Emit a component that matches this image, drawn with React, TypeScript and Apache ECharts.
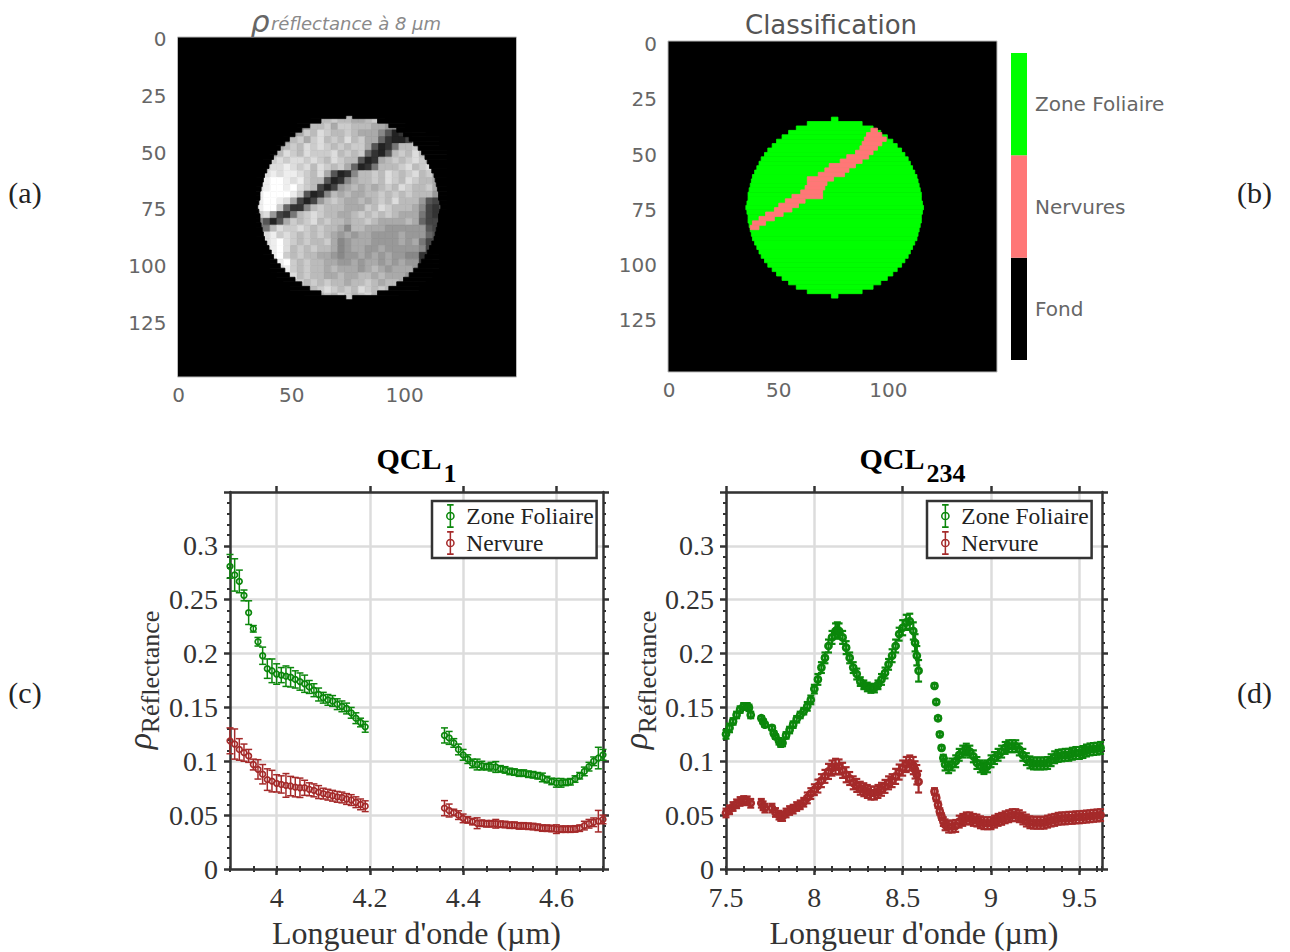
import React, { useEffect, useRef } from "react";
import * as echarts from "echarts";

const SERIF = "Liberation Serif";
const SANS = "DejaVu Sans";
const GREY_TEXT = "#666666";
const GREEN = "#0b870b";
const RED = "#a52a2a";

const IMG_TICKS = [0, 50, 100];
const IMG_YTICKS = [0, 25, 50, 75, 100, 125];
const CLASS_NAMES = ["Fond", "Nervures", "Zone Foliaire"];
const CLASS_COLORS = ["#000000", "#ff7777", "#00ff00"];

// Row of the disc: [row, first column, last column]
const DISC_ROWS = [
  [35, 74, 77], [37, 63, 88], [39, 58, 93], [41, 54.5, 96.5], [43, 51.5, 99.5], [45, 49, 102], [47, 47, 104],
  [49, 45, 106], [51, 43.5, 107.5], [53, 42, 109], [55, 41, 110], [57, 40, 111], [59, 39, 112], [61, 38, 113],
  [63, 37.5, 113.5], [65, 37, 114], [67, 36.5, 114.5], [69, 36, 115], [71, 36, 115], [73, 35.5, 115.5], [75, 35, 116],
  [77, 35.5, 115.5], [79, 36, 115], [81, 36, 115], [83, 36.5, 114.5], [85, 37, 114], [87, 37.5, 113.5], [89, 38, 113],
  [91, 39, 112], [93, 40, 111], [95, 41, 110], [97, 42, 109], [99, 43.5, 107.5], [101, 45, 106], [103, 47, 104],
  [105, 49, 102], [107, 51.5, 99.5], [109, 54.5, 96.5], [111, 58, 93], [113, 63, 88], [115, 74, 77],
];
// Empty rows above and below the disc in the reflectance image
const EMPTY_ROWS = [[32, 75, 75], [117, 75, 75]];

const NERVURE_ROWS = [
  [39, 92, 95], [41, 90, 97], [43, 89, 99], [45, 88, 97], [47, 87, 95], [49, 85, 93], [51, 81, 91], [53, 78, 88],
  [55, 73, 85], [57, 71, 82], [59, 68, 80], [61, 63, 75], [63, 63, 72], [65, 62, 71], [67, 60, 70], [69, 56, 70],
  [71, 53, 62], [73, 50, 59], [75, 48, 56], [77, 44, 52], [79, 41, 48], [81, 38, 44], [83, 37, 41],
];

// Reflectance image, read as one hex grey level per block of the picture
const GREY_ROWS = [
  "00000000000000000000000000000",
  "000000000abbcbbaabca000000000",
  "000000089bbcaccbbbaa999000000",
  "0000009acbdcbbcbaaa852369a000",
  "000009bcacdbcbdbcaa632248abb0",
  "0000abcbdcdcbcbcca5237bbcabb0",
  "000abdcbdcccdbcbc6325bcbdbcbb",
  "00bcdcddcdcbdcbb523abcbcdcbbc",
  "00cddedcdbdcbca6237bbbcdbcdcb",
  "0bdedeedcbda5238bbcbdcbcdbcaa",
  "0ceffedecbb5238abbcbdcbdcbbaa",
  "0deffefdcb4249abababcbdcbbcaa",
  "0effffec5238babaabbcbcbcbbb99",
  "0effeda4249bcbaababcbdbbb9545",
  "0effc6338bcbbbaaacbdcbbba8435",
  "0cd9437bcdcbbaabcbcbcbaaa7430",
  "08525acbcdbcbbabbcbaaaaba6440",
  "077bdccdcbcbba8bbaaa999999540",
  "0adecdcbcbcba9a9aa9999a999650",
  "00defdcbcbbca89aaa9999a9a7450",
  "00eefdbcbcbba89aa99a999998430",
  "00eefcbcbbaa9899a9a9a99883480",
  "000defcbcbbaa99a9aa9a9a993590",
  "000cdecbcbbabaaa9aba9aaa957a0",
  "0000ccdbcbbaabaabbabaaa9aaa00",
  "00000bccbcbcbbabbcbabbaaaa000",
  "000000abcbcdcbcbdcbcbbaba0000",
  "000000009bbcbdcbcdbcbb0000000",
  "00000000000000000000000000000",
];

const QCL1_X_TICKS = [4, 4.2, 4.4, 4.6];
const QCL234_X_TICKS = [7.5, 8, 8.5, 9, 9.5];
const Y_LABELS = [0, 0.05, 0.1, 0.15, 0.2, 0.25, 0.3];

// [wavelength, reflectance, half error bar]
const QCL1_GREEN = [
  [3.9, 0.281, 0.011], [3.91, 0.273, 0.015], [3.92, 0.267, 0.0105], [3.93, 0.254, 0.005], [3.94, 0.238, 0.011],
  [3.95, 0.223, 0.003], [3.96, 0.211, 0.004], [3.97, 0.198, 0.008], [3.98, 0.186, 0.009], [3.99, 0.184, 0.011],
  [4.0, 0.181, 0.0095], [4.01, 0.18, 0.007], [4.02, 0.179, 0.0095], [4.03, 0.178, 0.009], [4.04, 0.176, 0.008],
  [4.05, 0.174, 0.008], [4.06, 0.172, 0.008], [4.07, 0.169, 0.006], [4.08, 0.166, 0.006], [4.09, 0.162, 0.006],
  [4.1, 0.159, 0.005], [4.11, 0.157, 0.005], [4.12, 0.156, 0.005], [4.13, 0.153, 0.005], [4.14, 0.151, 0.005],
  [4.15, 0.149, 0.005], [4.16, 0.145, 0.005], [4.17, 0.14, 0.005], [4.18, 0.136, 0.004], [4.19, 0.132, 0.005],
  [4.36, 0.124, 0.007], [4.37, 0.1217, 0.006], [4.38, 0.117, 0.004], [4.39, 0.111, 0.005], [4.4, 0.106, 0.005],
  [4.41, 0.102, 0.004], [4.42, 0.098, 0.004], [4.43, 0.097, 0.005], [4.44, 0.096, 0.004], [4.45, 0.095, 0.003],
  [4.46, 0.095, 0.004], [4.47, 0.0947, 0.005], [4.48, 0.093, 0.003], [4.49, 0.092, 0.003], [4.5, 0.0906, 0.003],
  [4.51, 0.09, 0.003], [4.52, 0.089, 0.003], [4.53, 0.089, 0.003], [4.54, 0.088, 0.003], [4.55, 0.0875, 0.003],
  [4.56, 0.0866, 0.003], [4.57, 0.085, 0.004], [4.58, 0.083, 0.003], [4.59, 0.0813, 0.003], [4.6, 0.08, 0.004],
  [4.61, 0.08, 0.004], [4.62, 0.0804, 0.003], [4.63, 0.081, 0.003], [4.64, 0.0835, 0.003], [4.65, 0.0866, 0.003],
  [4.66, 0.0906, 0.004], [4.67, 0.095, 0.004], [4.68, 0.1, 0.004], [4.69, 0.103, 0.01], [4.7, 0.106, 0.005],
];

const QCL1_RED = [
  [3.9, 0.119, 0.012], [3.91, 0.116, 0.014], [3.92, 0.111, 0.01], [3.93, 0.108, 0.008], [3.94, 0.105, 0.006],
  [3.95, 0.097, 0.005], [3.96, 0.0925, 0.009], [3.97, 0.088, 0.009], [3.98, 0.083, 0.01], [3.99, 0.0816, 0.01],
  [4.0, 0.0795, 0.008], [4.01, 0.0785, 0.008], [4.02, 0.0776, 0.011], [4.03, 0.077, 0.009], [4.04, 0.076, 0.009],
  [4.05, 0.0754, 0.009], [4.06, 0.0754, 0.007], [4.07, 0.074, 0.006], [4.08, 0.073, 0.006], [4.09, 0.0714, 0.006],
  [4.1, 0.07, 0.005], [4.11, 0.069, 0.005], [4.12, 0.068, 0.005], [4.13, 0.067, 0.005], [4.14, 0.0664, 0.005],
  [4.15, 0.065, 0.005], [4.16, 0.064, 0.005], [4.17, 0.062, 0.005], [4.18, 0.06, 0.005], [4.19, 0.0583, 0.005],
  [4.36, 0.0565, 0.007], [4.37, 0.0543, 0.006], [4.38, 0.0525, 0.003], [4.39, 0.05, 0.004], [4.4, 0.047, 0.004],
  [4.41, 0.0456, 0.003], [4.42, 0.044, 0.003], [4.43, 0.0425, 0.005], [4.44, 0.0425, 0.003], [4.45, 0.042, 0.003],
  [4.46, 0.042, 0.003], [4.47, 0.042, 0.004], [4.48, 0.0416, 0.003], [4.49, 0.0413, 0.003], [4.5, 0.0407, 0.003],
  [4.51, 0.0407, 0.003], [4.52, 0.04, 0.003], [4.53, 0.04, 0.003], [4.54, 0.0397, 0.003], [4.55, 0.0394, 0.003],
  [4.56, 0.0388, 0.003], [4.57, 0.038, 0.003], [4.58, 0.0379, 0.003], [4.59, 0.0376, 0.003], [4.6, 0.037, 0.004],
  [4.61, 0.037, 0.003], [4.62, 0.037, 0.003], [4.63, 0.037, 0.003], [4.64, 0.0372, 0.003], [4.65, 0.0379, 0.003],
  [4.66, 0.0403, 0.004], [4.67, 0.042, 0.004], [4.68, 0.0434, 0.004], [4.69, 0.0444, 0.01], [4.7, 0.046, 0.004],
];

const QCL234_GREEN = [
  [7.5, 0.125, 0.004], [7.52, 0.131, 0.004], [7.54, 0.137, 0.003], [7.56, 0.143, 0.003], [7.58, 0.148, 0.003],
  [7.6, 0.151, 0.003], [7.62, 0.151, 0.003], [7.63, 0.1496, 0.003], [7.64, 0.143, 0.003],
  [7.7, 0.14, 0.002], [7.71, 0.137, 0.002], [7.72, 0.134, 0.002],
  [7.76, 0.131, 0.002], [7.77, 0.126, 0.002], [7.78, 0.123, 0.002], [7.8, 0.1186, 0.003], [7.81, 0.1164, 0.003],
  [7.82, 0.117, 0.003], [7.84, 0.124, 0.003], [7.86, 0.129, 0.003], [7.88, 0.134, 0.003], [7.9, 0.139, 0.003],
  [7.92, 0.143, 0.003], [7.94, 0.1465, 0.003], [7.96, 0.151, 0.004], [7.98, 0.157, 0.004], [8.0, 0.167, 0.004],
  [8.02, 0.176, 0.005], [8.04, 0.187, 0.005], [8.06, 0.196, 0.005], [8.08, 0.207, 0.006], [8.1, 0.215, 0.006],
  [8.12, 0.221, 0.007], [8.13, 0.222, 0.007], [8.14, 0.221, 0.007], [8.16, 0.215, 0.006], [8.18, 0.2055, 0.006],
  [8.2, 0.196, 0.005], [8.22, 0.187, 0.005], [8.24, 0.181, 0.005], [8.26, 0.174, 0.004], [8.28, 0.171, 0.004],
  [8.3, 0.169, 0.004], [8.32, 0.1676, 0.004], [8.34, 0.168, 0.004], [8.36, 0.171, 0.004], [8.38, 0.176, 0.005],
  [8.4, 0.182, 0.005], [8.42, 0.19, 0.005], [8.44, 0.198, 0.006], [8.46, 0.207, 0.006], [8.48, 0.218, 0.006],
  [8.5, 0.224, 0.007], [8.52, 0.229, 0.007], [8.54, 0.23, 0.007], [8.56, 0.221, 0.008], [8.57, 0.21, 0.008],
  [8.58, 0.198, 0.009], [8.59, 0.184, 0.01],
  [8.68, 0.17, 0.002], [8.69, 0.155, 0.002], [8.7, 0.14, 0.002], [8.71, 0.125, 0.002], [8.72, 0.1124, 0.002],
  [8.73, 0.103, 0.003], [8.74, 0.097, 0.0055], [8.76, 0.0945, 0.0055], [8.78, 0.097, 0.0055], [8.8, 0.1, 0.0055],
  [8.82, 0.106, 0.0055], [8.84, 0.109, 0.0055], [8.86, 0.1108, 0.0055], [8.88, 0.109, 0.0055], [8.9, 0.1046, 0.0055],
  [8.92, 0.0984, 0.0055], [8.94, 0.0953, 0.0055], [8.96, 0.0937, 0.0055], [8.98, 0.0953, 0.0055], [9.0, 0.1, 0.0055],
  [9.02, 0.103, 0.0055], [9.04, 0.106, 0.0055], [9.06, 0.109, 0.0055], [9.08, 0.1124, 0.0055], [9.1, 0.114, 0.0055],
  [9.12, 0.114, 0.0055], [9.14, 0.114, 0.0055], [9.16, 0.111, 0.0055], [9.18, 0.106, 0.0055], [9.2, 0.102, 0.0055],
  [9.22, 0.099, 0.0055], [9.24, 0.098, 0.0055], [9.26, 0.098, 0.0055], [9.28, 0.098, 0.0055], [9.3, 0.098, 0.0055],
  [9.32, 0.0984, 0.0055], [9.34, 0.101, 0.0055], [9.36, 0.1037, 0.0055], [9.38, 0.105, 0.0055], [9.4, 0.1055, 0.0055],
  [9.42, 0.106, 0.0055], [9.44, 0.106, 0.0055], [9.46, 0.107, 0.0055], [9.48, 0.1077, 0.0055], [9.5, 0.1077, 0.0055],
  [9.52, 0.1086, 0.0055], [9.54, 0.11, 0.0055], [9.56, 0.111, 0.0055], [9.58, 0.1114, 0.0055], [9.6, 0.1117, 0.0055],
  [9.62, 0.1124, 0.0055],
];

const QCL234_RED = [
  [7.5, 0.052, 0.004], [7.52, 0.055, 0.004], [7.54, 0.058, 0.004], [7.56, 0.0605, 0.004], [7.58, 0.0627, 0.004],
  [7.6, 0.0636, 0.004], [7.62, 0.0633, 0.004], [7.64, 0.061, 0.004],
  [7.7, 0.061, 0.004], [7.71, 0.0587, 0.004], [7.72, 0.0565, 0.004],
  [7.76, 0.0565, 0.004], [7.78, 0.0525, 0.004], [7.8, 0.05, 0.004], [7.81, 0.0487, 0.004], [7.82, 0.0487, 0.004],
  [7.84, 0.052, 0.004], [7.86, 0.0543, 0.004], [7.88, 0.0556, 0.004], [7.9, 0.058, 0.004], [7.92, 0.0596, 0.004],
  [7.94, 0.062, 0.004], [7.96, 0.066, 0.005], [7.98, 0.07, 0.005], [8.0, 0.0736, 0.005], [8.02, 0.077, 0.006],
  [8.04, 0.082, 0.006], [8.06, 0.086, 0.006], [8.08, 0.0906, 0.007], [8.1, 0.0937, 0.007], [8.12, 0.0953, 0.007],
  [8.14, 0.0947, 0.007], [8.16, 0.0916, 0.007], [8.18, 0.0875, 0.007], [8.2, 0.084, 0.006], [8.22, 0.08, 0.006],
  [8.24, 0.0776, 0.006], [8.26, 0.075, 0.006], [8.28, 0.0736, 0.006], [8.3, 0.072, 0.006], [8.32, 0.0705, 0.006],
  [8.34, 0.0705, 0.006], [8.36, 0.072, 0.006], [8.38, 0.074, 0.006], [8.4, 0.0767, 0.006], [8.42, 0.08, 0.006],
  [8.44, 0.082, 0.006], [8.46, 0.086, 0.007], [8.48, 0.09, 0.007], [8.5, 0.0937, 0.007], [8.52, 0.097, 0.007],
  [8.54, 0.0984, 0.007], [8.56, 0.096, 0.008], [8.57, 0.092, 0.008], [8.58, 0.0875, 0.009], [8.59, 0.081, 0.01],
  [8.68, 0.072, 0.003], [8.69, 0.066, 0.003], [8.7, 0.0596, 0.003], [8.71, 0.0534, 0.003], [8.72, 0.0487, 0.003],
  [8.73, 0.044, 0.004], [8.74, 0.041, 0.005], [8.76, 0.0394, 0.0055], [8.78, 0.0394, 0.0055], [8.8, 0.04, 0.0055],
  [8.82, 0.044, 0.0055], [8.84, 0.0456, 0.0055], [8.86, 0.047, 0.0055], [8.88, 0.047, 0.0055], [8.9, 0.0456, 0.0055],
  [8.92, 0.045, 0.0055], [8.94, 0.0434, 0.0055], [8.96, 0.0425, 0.0055], [8.98, 0.0425, 0.0055], [9.0, 0.0425, 0.0055],
  [9.02, 0.044, 0.0055], [9.04, 0.0456, 0.0055], [9.06, 0.0466, 0.0055], [9.08, 0.048, 0.0055], [9.1, 0.049, 0.0055],
  [9.12, 0.05, 0.0055], [9.14, 0.05, 0.0055], [9.16, 0.049, 0.0055], [9.18, 0.047, 0.0055], [9.2, 0.045, 0.0055],
  [9.22, 0.0434, 0.0055], [9.24, 0.043, 0.0055], [9.26, 0.043, 0.0055], [9.28, 0.043, 0.0055], [9.3, 0.043, 0.0055],
  [9.32, 0.044, 0.0055], [9.34, 0.045, 0.0055], [9.36, 0.0456, 0.0055], [9.38, 0.0466, 0.0055], [9.4, 0.047, 0.0055],
  [9.42, 0.047, 0.0055], [9.44, 0.0475, 0.0055], [9.46, 0.0475, 0.0055], [9.48, 0.048, 0.0055], [9.5, 0.048, 0.0055],
  [9.52, 0.0484, 0.0055], [9.54, 0.0487, 0.0055], [9.56, 0.049, 0.0055], [9.58, 0.0494, 0.0055], [9.6, 0.0497, 0.0055],
  [9.62, 0.05, 0.0055],
];

const ERR_ICON =
  "path://M2 0h6v1.5h-6zM2 20.5h6V22h-6zM4.3 0h1.4v22h-1.4zM9 11a4 4 0 1 1-8 0a4 4 0 1 1 8 0zM7.6 11a2.6 2.6 0 1 0-5.2 0a2.6 2.6 0 1 0 5.2 0z";

const rectBetween = (api: any, x0: number, y0: number, x1: number, y1: number, fill: string) => {
  const a = api.coord([x0, y0]);
  const b = api.coord([x1, y1]);
  return {
    type: "rect",
    shape: { x: a[0], y: a[1], width: b[0] - a[0], height: b[1] - a[1] },
    style: { fill, stroke: fill, lineWidth: 0.8 },
  };
};

const rowsSeries = (rows: number[][], index: number, fill: string, dy = 0) => ({
  type: "custom",
  xAxisIndex: index,
  yAxisIndex: index,
  silent: true,
  data: rows,
  renderItem: (_: any, api: any) =>
    rectBetween(api, api.value(1), api.value(0) - 1 + dy, api.value(2), api.value(0) + 1 + dy, fill),
});

const maskSeries = (rows: number[][], index: number, dy: number) => ({
  type: "custom",
  xAxisIndex: index,
  yAxisIndex: index,
  silent: true,
  z: 3,
  data: rows,
  renderItem: (_: any, api: any) => ({
    type: "group",
    children: [
      rectBetween(api, 0, api.value(0) - 1 + dy, api.value(1), api.value(0) + 1 + dy, "#000000"),
      rectBetween(api, api.value(2), api.value(0) - 1 + dy, 148, api.value(0) + 1 + dy, "#000000"),
    ],
  }),
});

const greyCells = GREY_ROWS.flatMap((row, r) => row.split("").map((ch, c) => [c, r, parseInt(ch, 16) * 17]));

const errorSeries = (
  name: string, rows: number[][], color: string, xi: number, yi: number,
  lineWidth: number, r: number, barWidth: number,
) => ({
  name,
  type: "custom",
  xAxisIndex: xi,
  yAxisIndex: yi,
  clip: false,
  z: 4,
  itemStyle: { color },
  encode: { x: 0, y: 1 },
  data: rows,
  renderItem: (_: any, api: any) => {
    const p = api.coord([api.value(0), api.value(1)]);
    const hi = api.coord([api.value(0), api.value(1) + api.value(2)])[1];
    const lo = api.coord([api.value(0), api.value(1) - api.value(2)])[1];
    const style = { stroke: color, lineWidth, fill: "none" };
    const barStyle = { stroke: color, lineWidth: barWidth, fill: "none" };
    return {
      type: "group",
      children: [
        { type: "line", shape: { x1: p[0], y1: hi, x2: p[0], y2: lo }, style: barStyle },
        { type: "line", shape: { x1: p[0] - 3.5, y1: hi, x2: p[0] + 3.5, y2: hi }, style: barStyle },
        { type: "line", shape: { x1: p[0] - 3.5, y1: lo, x2: p[0] + 3.5, y2: lo }, style: barStyle },
        { type: "circle", shape: { cx: p[0], cy: p[1], r }, style },
      ],
    };
  },
});

const hidden = { show: false };
const DARK = "#333333";
const SPLIT = { show: true, lineStyle: { color: "#dcdcdc", width: 2.5 } };

const imgX = (grid: number) => ({
  type: "value", gridIndex: grid, min: -0.5, max: 149.5, position: "bottom",
  axisLine: hidden,
  axisTick: { show: false, customValues: IMG_TICKS },
  splitLine: hidden,
  axisLabel: { customValues: IMG_TICKS, color: GREY_TEXT, fontFamily: SANS, fontSize: 20, margin: 8 },
});
const imgY = (grid: number, min: number, max: number) => ({
  type: "value", gridIndex: grid, min, max, inverse: true,
  axisLine: hidden,
  axisTick: { show: false, customValues: IMG_YTICKS },
  splitLine: hidden,
  axisLabel: { customValues: IMG_YTICKS, color: GREY_TEXT, fontFamily: SANS, fontSize: 20, margin: 11 },
});

const specX = (grid: number, min: number, max: number, ticks: number[], minor: number) => {
  const line = { show: true, onZero: false, lineStyle: { color: DARK, width: 2.5 } };
  const major = { show: true, customValues: ticks, length: 6, lineStyle: { color: DARK, width: 2.5 } };
  const small = { show: true, length: 3, lineStyle: { color: DARK, width: 2 } };
  const base = { type: "value", gridIndex: grid, min, max };
  return [
    {
      ...base, position: "bottom", axisLine: line, axisTick: major, splitLine: SPLIT,
      axisLabel: { customValues: ticks, color: "#333333", fontFamily: SERIF, fontSize: 28, margin: 14 },
      name: "Longueur d'onde (µm)", nameLocation: "middle", nameGap: 48,
      nameTextStyle: { color: "#333333", fontFamily: SERIF, fontSize: 32 },
    },
    { ...base, position: "bottom", interval: minor, axisLine: hidden, axisTick: small, splitLine: hidden, axisLabel: hidden },
    { ...base, position: "top", axisLine: line, axisTick: major, splitLine: hidden, axisLabel: { show: false } },
    { ...base, position: "top", interval: minor, axisLine: hidden, axisTick: small, splitLine: hidden, axisLabel: hidden },
  ];
};

const specY = (grid: number) => {
  const line = { show: true, onZero: false, lineStyle: { color: DARK, width: 2.5 } };
  const tick = { show: true, length: 6, lineStyle: { color: DARK, width: 2.5 } };
  const minorTick = { show: true, splitNumber: 5, length: 3, lineStyle: { color: DARK, width: 2 } };
  const base = { type: "value", gridIndex: grid, min: 0, max: 0.35, interval: 0.05 };
  return [
    {
      ...base, position: "left", axisLine: line, axisTick: tick, minorTick, splitLine: SPLIT,
      axisLabel: { customValues: Y_LABELS, color: "#333333", fontFamily: SERIF, fontSize: 28, margin: 12 },
    },
    { ...base, position: "right", axisLine: line, axisTick: tick, minorTick, splitLine: hidden, axisLabel: { show: false } },
  ];
};

const legendAt = (left: number) => ({
  left,
  top: 501,
  orient: "vertical",
  selectedMode: false,
  backgroundColor: "#ffffff",
  borderColor: DARK,
  borderWidth: 2.5,
  padding: [3, 3, 3, 14],
  itemWidth: 22,
  itemHeight: 24,
  itemGap: 3,
  z: 10,
  textStyle: { fontFamily: SERIF, fontSize: 23.5, color: "#222222" },
  data: [
    { name: "Zone Foliaire", icon: ERR_ICON },
    { name: "Nervure", icon: ERR_ICON },
  ],
});

const text = (x: number, y: number, value: string, fontSize: number, extra: any = {}, rotation = 0) => ({
  type: "text", x, y, rotation, z: 20,
  style: {
    text: value, fontSize, fontFamily: SERIF, fill: "#222222",
    textAlign: "center", textVerticalAlign: "middle", ...extra,
  },
});

const imgGrid = { show: true, backgroundColor: "#000000", borderWidth: 1, borderColor: "#bbbbbb" };

const option = {
  animation: false,
  backgroundColor: "#ffffff",
  grid: [
    { left: 177.5, top: 37, width: 339, height: 340, ...imgGrid },
    { left: 668, top: 41, width: 329, height: 331, ...imgGrid },
    { left: 230, top: 492, width: 373, height: 377 },
    { left: 726, top: 492, width: 376, height: 377 },
    { left: 1011, top: 53, width: 16, height: 307 },
  ],
  xAxis: [
    imgX(0),
    imgX(1),
    ...specX(2, 3.9, 4.7, QCL1_X_TICKS, 0.05),
    ...specX(3, 7.5, 9.628, QCL234_X_TICKS, 0.1),
    { type: "value", gridIndex: 4, min: 0, max: 1, show: false },
  ],
  yAxis: [
    imgY(0, -1, 149),
    imgY(1, -1.5, 148.5),
    ...specY(2),
    ...specY(3),
    {
      type: "category", gridIndex: 4, position: "right", data: CLASS_NAMES,
      axisLine: hidden, axisTick: hidden,
      axisLabel: { color: GREY_TEXT, fontFamily: SANS, fontSize: 20, margin: 8, padding: [4, 0, 0, 0] },
    },
  ],
  legend: [legendAt(432), legendAt(927)],
  graphic: [
    text(25, 192, "(a)", 30),
    text(1254.5, 192, "(b)", 30),
    text(25, 692, "(c)", 30),
    text(1254.5, 692, "(d)", 30),
    text(260, 21, "ρ", 30, { fontFamily: SANS, fontStyle: "italic", fill: "#666666" }),
    text(356, 23, "réflectance à 8 µm", 18, { fontFamily: SANS, fontStyle: "italic", fill: "#8a8a8a" }),
    text(831, 25, "Classification", 26, { fontFamily: SANS, fill: "#555555" }),
    text(409, 458, "QCL", 30, { fontWeight: "bold", fill: "#000000" }),
    text(450, 473, "1", 26, { fontWeight: "bold", fill: "#000000" }),
    text(892, 458, "QCL", 30, { fontWeight: "bold", fill: "#000000" }),
    text(946, 473, "234", 26, { fontWeight: "bold", fill: "#000000" }),
    text(139, 741, "ρ", 34, { fontStyle: "italic", fill: "#333333" }, Math.PI / 2),
    text(150, 672, "Réflectance", 26, { fill: "#333333" }, Math.PI / 2),
    text(635, 741, "ρ", 34, { fontStyle: "italic", fill: "#333333" }, Math.PI / 2),
    text(647, 672, "Réflectance", 26, { fill: "#333333" }, Math.PI / 2),
  ],
  series: [
    {
      type: "custom", xAxisIndex: 0, yAxisIndex: 0, silent: true, z: 2, data: greyCells,
      renderItem: (_: any, api: any) => {
        const g = api.value(2);
        const col = 31.5 + api.value(0) * 3;
        const row = 31 + api.value(1) * 3;
        return rectBetween(api, col, row, col + 3, row + 3, `rgb(${g},${g},${g})`);
      },
    },
    maskSeries([...DISC_ROWS, ...EMPTY_ROWS], 0, -1),
    rowsSeries(DISC_ROWS, 1, "#00ff00", -1),
    rowsSeries(NERVURE_ROWS, 1, "#ff7777"),
    errorSeries("Zone Foliaire", QCL1_GREEN, GREEN, 2, 2, 1.7, 2.8, 1.5),
    errorSeries("Nervure", QCL1_RED, RED, 2, 2, 1.7, 2.8, 1.5),
    errorSeries("Zone Foliaire", QCL234_GREEN, GREEN, 6, 4, 2.8, 3, 2.2),
    errorSeries("Nervure", QCL234_RED, RED, 6, 4, 2.8, 3, 2.2),
    {
      type: "bar", xAxisIndex: 10, yAxisIndex: 6, barWidth: "100%", silent: true,
      data: CLASS_COLORS.map((color) => ({ value: 1, itemStyle: { color } })),
    },
  ],
};

export default function App() {
  const ref = useRef<HTMLDivElement>(null);
  useEffect(() => {
    const chart = echarts.init(ref.current!, undefined, { renderer: "svg" });
    chart.setOption(option as any);
    return () => chart.dispose();
  }, []);
  return <div ref={ref} style={{ position: "absolute", left: 0, top: 0, width: 1290, height: 952 }} />;
}
